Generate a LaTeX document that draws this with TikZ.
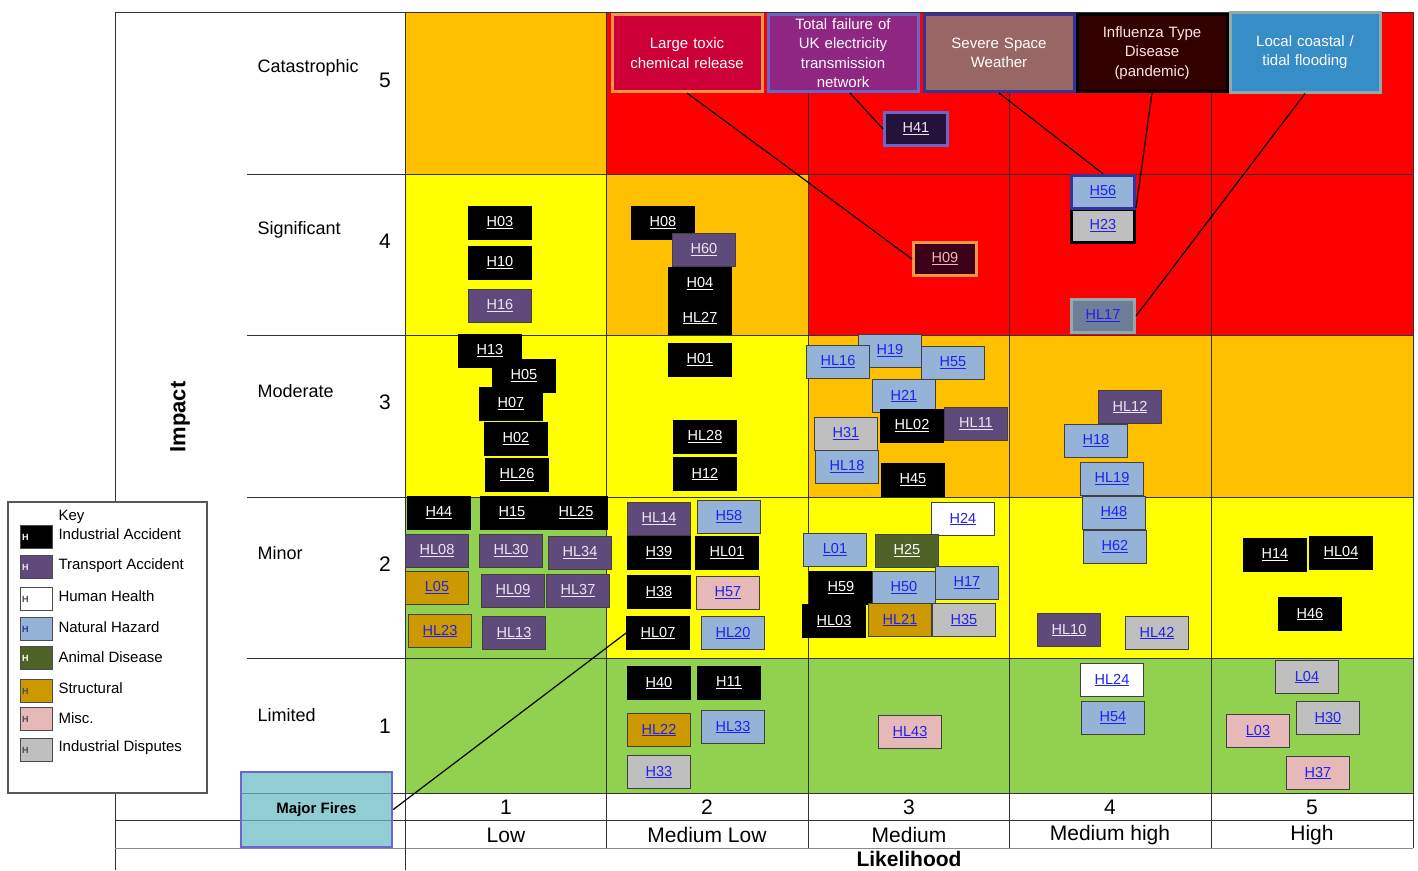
\documentclass[tikz,border=0pt]{standalone}
\usepackage{fontspec}
\setmainfont{Liberation Sans}

\definecolor{riskred}{HTML}{FF0000}
\definecolor{riskamber}{HTML}{FFC000}
\definecolor{riskyellow}{HTML}{FFFF00}
\definecolor{riskgreen}{HTML}{92D050}
\definecolor{cTrans}{HTML}{604A7B}
\definecolor{cNat}{HTML}{95B3D7}
\definecolor{cAnimal}{HTML}{4F6228}
\definecolor{cStruct}{HTML}{CC9900}
\definecolor{cMisc}{HTML}{E6B9B8}
\definecolor{cDisp}{HTML}{BFBFBF}
\definecolor{cNavy}{HTML}{333399}
\definecolor{cSlate}{HTML}{6E7E99}
\definecolor{linkblue}{HTML}{2020F0}
\definecolor{paleText}{HTML}{ECE6F2}
\definecolor{toxicfill}{HTML}{CC0036}
\definecolor{toxicedge}{HTML}{F79646}
\definecolor{powerfill}{HTML}{8E2682}
\definecolor{poweredge}{HTML}{6666CC}
\definecolor{spacefill}{HTML}{996666}
\definecolor{flufill}{HTML}{330000}
\definecolor{coastfill}{HTML}{378DC5}
\definecolor{coastedge}{HTML}{93A8A8}
\definecolor{firefill}{HTML}{92CDD3}
\definecolor{fireedge}{HTML}{6A67D0}

\newcommand\hzfont{\fontsize{14.5}{16}\selectfont}
\newcommand\calfont{\fontsize{15}{19.5}\selectfont}
\newcommand\catfont{\fontsize{18}{21}\selectfont}
\newcommand\numfont{\fontsize{21}{24}\selectfont}
\newcommand\keyfont{\fontsize{15}{17}\selectfont}

\tikzset{
  hz/.style={draw=black!75, line width=0.8pt, minimum width=63pt, minimum height=33pt,
    inner sep=0pt, font=\hzfont},
  hzind/.style={hz, fill=black, draw=black, text=white},
  hztrn/.style={hz, fill=cTrans, text=paleText},
  hzhlt/.style={hz, fill=white, text=linkblue},
  hznat/.style={hz, fill=cNat, text=linkblue},
  hzani/.style={hz, fill=cAnimal, text=white},
  hzstr/.style={hz, fill=cStruct, text=linkblue},
  hzmsc/.style={hz, fill=cMisc, text=linkblue},
  hzdis/.style={hz, fill=cDisp, text=linkblue},
  callout/.style={line width=3pt, minimum width=150pt, minimum height=77pt, text width=148pt,
    align=center, font=\calfont, text=white, inner sep=0pt},
  tabline/.style={black!80, line width=0.8pt},
  leader/.style={black, line width=1.2pt},
  keyswatch/.style={draw=black!70, line width=0.8pt, minimum width=32pt, minimum height=23pt,
    text width=28pt, align=left, inner sep=2pt, font=\fontsize{9}{10}\selectfont\bfseries}
}

\begin{document}
\begin{tikzpicture}[x=1pt,y=-1pt]
\useasboundingbox (0,0) rectangle (1418,870);
\fill[white] (0,0) rectangle (1418,870);

\foreach \top/\ht/\cols in {12/162/{riskamber,riskred,riskred,riskred,riskred},
    174/161/{riskyellow,riskamber,riskred,riskred,riskred},
    335/162/{riskyellow,riskyellow,riskamber,riskamber,riskamber},
    497/161/{riskgreen,riskyellow,riskyellow,riskyellow,riskyellow},
    658/135/{riskgreen,riskgreen,riskgreen,riskgreen,riskgreen}}
  \foreach \col [count=\i from 0] in \cols
    \fill[\col] ({405+201.6*\i},\top) rectangle ++(201.6,\ht);

\foreach \xx in {405,606.6,808.2,1009.8,1211.4,1413}
  \draw[tabline] (\xx,12) -- (\xx,848);
\foreach \yy in {174,335,497,658,793}
  \draw[tabline] (247,\yy) -- (1413,\yy);
\draw[tabline] (115,12) -- (1413,12);
\draw[tabline] (115,12) -- (115,870);
\draw[tabline] (115,820) -- (1413,820);
\draw[black!45, line width=0.8pt] (115,848) -- (1413,848);
\draw[tabline] (405,848) -- (405,870);

\node[rotate=90, font=\fontsize{22}{24}\selectfont\bfseries] (impact) at (180,417) {Impact};
\foreach \lbl/\ly/\ny [count=\k] in {Catastrophic/68/80, Significant/230/241, Moderate/391/402,
    Minor/553/564, Limited/715/726}
{
  \node[anchor=west, font=\catfont] (cat\k) at (254,\ly) {\lbl};
  \node[font=\numfont] (num\k) at (385,\ny) {\the\numexpr6-\k\relax};
}

\foreach \lbl/\xx [count=\k] in {Low/506, Medium Low/707, Medium/909, Medium high/1110, High/1312}
{
  \node[font=\numfont] (lik\k) at (\xx,807) {\k};
  \node[font=\numfont] (likname\k) at (\xx,835) {\lbl};
}
\node[font=\fontsize{21}{24}\selectfont\bfseries] (likelihood) at (909,859) {Likelihood};

\draw[black!65, line width=1.2pt, fill=white] (8,502) rectangle (207,793);
\node[anchor=west, font=\keyfont] (keyttl) at (55,517) {Key};
\foreach \i/\yy/\ly/\fc/\hc/\lbl in {1/537/534/black/white/Industrial Accident,
    2/567/566/cTrans/paleText/Transport Accident, 3/599/596/white/black!70/Human Health,
    4/629/627/cNat/cNavy/Natural Hazard, 5/658/657/cAnimal/white/Animal Disease,
    6/691/688/cStruct/black!70/Structural, 7/719/718/cMisc/black!70/Misc.,
    8/750/748/cDisp/black!70/Industrial Disputes}
{
  \node[keyswatch, fill=\fc, text=\hc] (sw\i) at (36,\yy) {H};
  \node[anchor=west, font=\keyfont] (kl\i) at (55,\ly) {\lbl};
}

\foreach \n/\s/\x/\y in {H03/hzind/500/223, H10/hzind/500/263, H16/hztrn/500/306,
    H08/hzind/663/223, H60/hztrn/704/250, H04/hzind/700/284, HL27/hzind/700/318,
    H13/hzind/490/351, H05/hzind/524/376, H07/hzind/511/404, H02/hzind/516/439,
    HL26/hzind/517/475, H01/hzind/700/360, HL28/hzind/705/437, H12/hzind/705/474,
    H19/hznat/890/351, HL16/hznat/838/362, H55/hznat/953/363, H21/hznat/904/396,
    HL02/hzind/912/426, HL11/hztrn/976/424, H31/hzdis/846/434, HL18/hznat/847/467,
    H45/hzind/913/480, HL12/hztrn/1130/407, H18/hznat/1096/441, HL19/hznat/1112/479,
    H48/hznat/1114/513, H62/hznat/1115/547,
    H44/hzind/439/513, H15/hzind/512/513, HL25/hzind/576/513, HL08/hztrn/437/551,
    HL30/hztrn/511/551, HL34/hztrn/580/553, L05/hzstr/437/588, HL09/hztrn/513/591,
    HL37/hztrn/578/591, HL23/hzstr/440/631, HL13/hztrn/514/633,
    HL14/hztrn/659/519, H58/hznat/729/517, H39/hzind/659/553, HL01/hzind/727/553,
    H38/hzind/659/592, H57/hzmsc/728/593, HL07/hzind/658/633, HL20/hznat/733/633,
    H24/hzhlt/963/519, L01/hznat/835/550, H25/hzani/907/551, H59/hzind/841/588,
    H50/hznat/904/588, H17/hznat/967/583, HL03/hzind/834/621, HL21/hzstr/900/620,
    H35/hzdis/964/620, HL10/hztrn/1069/630, HL42/hzdis/1157/633,
    H14/hzind/1275/555, HL04/hzind/1341/553, H46/hzind/1310/614,
    H40/hzind/659/683, H11/hzind/729/683, HL22/hzstr/659/730, HL33/hznat/733/727,
    H33/hzdis/659/772, HL43/hzmsc/910/732, HL24/hzhlt/1112/680, H54/hznat/1113/718,
    L04/hzdis/1307/677, H30/hzdis/1328/718, L03/hzmsc/1258/731, H37/hzmsc/1318/773}
  \node[\s] (\n) at (\x,\y) {\underline{\n}};

\node[hz, fill=cDisp, draw=black, line width=3pt, text=linkblue] (H23) at (1103,226) {\underline{H23}};
\node[hz, fill=cNat, draw=cNavy, line width=3.5pt, text=linkblue] (H56) at (1103,192) {\underline{H56}};
\node[hz, fill=cSlate, draw=coastedge, line width=3pt, text=linkblue] (HL17) at (1103,316) {\underline{HL17}};
\node[hz, fill={rgb,255:red,36;green,18;blue,58}, draw=poweredge, line width=3pt, text=paleText] (H41) at (916,129) {\underline{H41}};
\node[hz, fill={rgb,255:red,60;green,0;blue,24}, draw=toxicedge, line width=3pt, text=cMisc] (H09) at (945,259) {\underline{H09}};

\node[callout, fill=toxicfill, draw=toxicedge] (toxic) at (687,53) {Large toxic\\chemical release};
\node[callout, fill=powerfill, draw=poweredge] (power) at (843,53) {Total failure of\\UK electricity\\transmission\\network};
\node[callout, fill=spacefill, draw=cNavy] (space) at (999,53) {Severe Space\\Weather};
\node[callout, fill=flufill, draw=black, text=white!90!red] (flu) at (1152,53) {Influenza Type\\Disease\\(pandemic)};
\node[callout, fill=coastfill, draw=coastedge, minimum height=80pt] (coast) at (1305,52) {Local coastal /\\tidal flooding};

\node[draw=fireedge, line width=2.5pt, fill=firefill, minimum width=151pt, minimum height=75pt,
  font=\fontsize{15}{17}\selectfont\bfseries] (fires) at (316.5,809.5) {Major Fires};
\draw[black, opacity=0.3] (242,793) -- (391,793) (242,820) -- (391,820);

\draw[leader] (toxic.south) -- (H09.west);
\draw[leader] ([xshift=7pt]power.south) -- (H41.west);
\draw[leader] (space.south) -- (H56.north);
\draw[leader] (flu.south) -- (H23.north east);
\draw[leader] (coast.south) -- (HL17.east);
\draw[leader] (fires.east) -- (HL07.west);
\end{tikzpicture}
\end{document}
